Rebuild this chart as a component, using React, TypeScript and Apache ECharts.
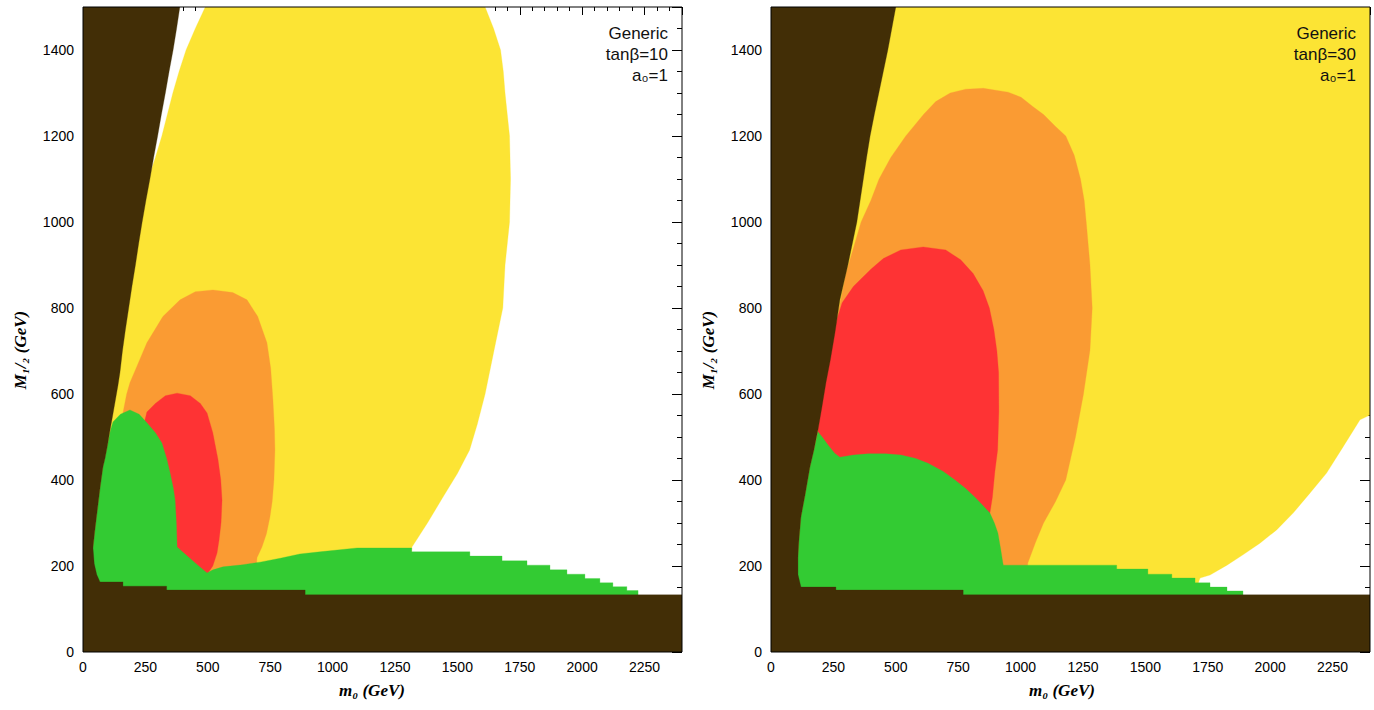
import React, { useEffect, useRef } from 'react';
import * as echarts from 'echarts';

// Axis ranges (GeV)
const X_MAX = 2400;
const X_STEP = 250;
const Y_MAX = 1500;
const Y_STEP = 200;

const panelLabels = [
  ['Generic', 'tanβ=10', 'a₀=1'],
  ['Generic', 'tanβ=30', 'a₀=1'],
];

const COLORS = {
  brown: '#422e06',
  yellow: '#fce434',
  orange: '#fa9b33',
  red: '#fe3334',
  green: '#33cb33',
};

// ---------- Left panel (tanβ = 10): region boundaries [m0, M1/2] ----------
const leftYellow = [
  [490, 1500], [1611, 1500], [1645, 1450], [1673, 1400], [1684, 1350], [1691, 1300],
  [1700, 1250], [1709, 1200], [1713, 1100], [1709, 1000], [1691, 900], [1682, 800],
  [1647, 702], [1611, 600], [1580, 530], [1549, 470], [1500, 415], [1440, 358],
  [1380, 300], [1318, 244], [1300, 150], [20, 150], [60, 400], [120, 600], [170, 800],
  [225, 1000], [262, 1100], [290, 1150], [316, 1200], [338, 1250], [360, 1300],
  [385, 1350], [413, 1400], [450, 1450],
];
const leftOrange = [
  [521, 842], [600, 836], [657, 819], [700, 780], [737, 719], [752, 660], [761, 586],
  [767, 520], [769, 470], [765, 400], [758, 350], [749, 314], [735, 275], [717, 244],
  [697, 219], [690, 150], [140, 150], [140, 450], [160, 556], [175, 600], [188, 626],
  [220, 670], [256, 719], [320, 780], [389, 819], [450, 838],
];
const leftRed = [
  [377, 602], [430, 596], [470, 578], [497, 556], [520, 510], [541, 447], [552, 400],
  [557, 353], [553, 300], [545, 260], [537, 230], [520, 200], [501, 184], [400, 180],
  [240, 300], [240, 520], [256, 558], [290, 578], [330, 596],
];
const leftGreen = [
  [40, 242], [47, 280], [56, 323], [68, 380], [80, 430], [98, 480], [110, 515],
  [120, 535], [150, 553], [188, 563], [225, 553], [256, 533], [290, 510], [316, 486],
  [335, 450], [349, 416], [362, 380], [369, 353], [374, 300], [377, 244], [420, 222],
  [460, 202], [497, 184], [521, 191], [561, 198], [640, 203], [709, 209], [790, 218],
  [869, 228], [950, 233], [1098, 242], [1317, 242], [1317, 233], [1550, 233],
  [1550, 223], [1679, 223], [1679, 212], [1779, 212], [1779, 202], [1871, 202],
  [1871, 191], [1939, 191], [1939, 181], [2011, 181], [2011, 171], [2071, 171],
  [2071, 161], [2123, 161], [2123, 152], [2179, 152], [2179, 143], [2224, 143],
  [2224, 125], [30, 125],
];
const leftBrown = [
  [0, 0], [0, 1500], [388, 1500], [375, 1450], [361, 1400], [345, 1350], [330, 1300],
  [314, 1250], [299, 1200], [283, 1150], [268, 1100], [252, 1050], [237, 1000],
  [223, 950], [210, 900], [196, 850], [183, 800], [170, 750], [158, 700], [148, 650],
  [140, 620], [128, 580], [118, 547], [108, 515], [98, 480], [88, 450], [80, 430],
  [68, 380], [56, 323], [47, 280], [40, 242], [45, 205], [55, 180], [68, 163],
  [160, 163], [160, 153], [335, 153], [335, 144], [890, 144], [890, 133],
  [2400, 133], [2400, 0],
];

// ---------- Right panel (tanβ = 30) ----------
const rightYellow = [
  [0, 140], [0, 1500], [2400, 1500], [2400, 551], [2360, 540], [2292, 477],
  [2226, 416], [2160, 370], [2092, 323], [2026, 284], [1959, 253], [1891, 226],
  [1827, 202], [1759, 179], [1719, 172], [1700, 140],
];
const rightOrange = [
  [851, 1311], [950, 1302], [1002, 1290], [1050, 1268], [1092, 1250], [1140, 1222],
  [1181, 1200], [1215, 1155], [1240, 1100], [1255, 1050], [1263, 1000], [1278, 900],
  [1287, 800], [1278, 702], [1252, 600], [1220, 500], [1181, 400], [1140, 350],
  [1092, 300], [1060, 255], [1029, 207], [1020, 150], [150, 150], [200, 600],
  [250, 730], [300, 880], [361, 1000], [400, 1050], [433, 1100], [480, 1150],
  [540, 1200], [611, 1250], [660, 1280], [718, 1300], [780, 1309],
];
const rightRed = [
  [610, 942], [700, 935], [760, 912], [810, 880], [850, 840], [875, 800], [893, 750],
  [905, 700], [912, 650], [913, 560], [908, 470], [897, 420], [887, 360], [877, 323],
  [850, 300], [600, 300], [300, 400], [188, 470], [188, 516], [195, 580], [215, 660],
  [240, 730], [262, 770], [285, 812], [330, 850], [400, 890], [450, 915], [520, 935],
];
const rightGreen = [
  [108, 221], [112, 260], [120, 314], [138, 370], [156, 430], [172, 470], [188, 512],
  [205, 500], [230, 480], [255, 462], [276, 453], [330, 458], [389, 461], [460, 461],
  [521, 458], [580, 450], [629, 439], [690, 420], [737, 400], [780, 380], [817, 360],
  [850, 340], [877, 323], [895, 300], [909, 277], [920, 240], [929, 207], [931, 202],
  [1385, 202], [1385, 193], [1510, 193], [1510, 181], [1606, 181], [1606, 172],
  [1699, 172], [1699, 161], [1759, 161], [1759, 151], [1827, 151], [1827, 142],
  [1891, 142], [1891, 125], [100, 125],
];
const rightBrown = [
  [0, 0], [0, 1500], [500, 1500], [484, 1450], [468, 1400], [450, 1350], [432, 1300],
  [414, 1250], [397, 1200], [383, 1150], [370, 1100], [357, 1050], [344, 1000],
  [326, 950], [308, 900], [292, 860], [276, 819], [256, 742], [238, 680], [220, 626],
  [204, 570], [188, 516], [172, 470], [156, 430], [138, 370], [120, 314], [112, 260],
  [108, 221], [108, 180], [120, 151], [260, 151], [260, 144], [770, 144], [770, 133],
  [2400, 133], [2400, 0],
];

const panels = [
  [
    [leftYellow, COLORS.yellow], [leftOrange, COLORS.orange], [leftRed, COLORS.red],
    [leftGreen, COLORS.green], [leftBrown, COLORS.brown],
  ],
  [
    [rightYellow, COLORS.yellow], [rightOrange, COLORS.orange], [rightRed, COLORS.red],
    [rightGreen, COLORS.green], [rightBrown, COLORS.brown],
  ],
];

const GRID_LEFTS = [83, 771];
const LABEL_FONT = 'Liberation Sans';

function polySeries(g: number, poly: number[][], color: string) {
  return {
    type: 'custom',
    xAxisIndex: g * 2,
    yAxisIndex: g * 2,
    data: poly,
    clip: true,
    silent: true,
    z: 2,
    encode: { x: 0, y: 1 },
    renderItem: (params: any, api: any) => {
      if (params.dataIndex !== 0) return null;
      const pts = poly.map((p) => api.coord(p));
      return {
        type: 'polygon',
        shape: { points: pts },
        style: { fill: color, stroke: color, lineWidth: 0.3 },
      };
    },
  };
}

const plainLabel = (v: number) => String(v);

function buildOption() {
  const grid = GRID_LEFTS.map((l) => ({
    left: l, top: 7, width: 599, height: 645,
    show: true, borderColor: '#000', borderWidth: 1, backgroundColor: 'transparent', z: 10,
  }));
  const xAxis: any[] = [];
  const yAxis: any[] = [];
  GRID_LEFTS.forEach((_, g) => {
    xAxis.push({
      type: 'value', gridIndex: g, position: 'bottom', min: 0, max: X_MAX, interval: X_STEP,
      z: 10,
      axisLine: { show: false, onZero: false },
      axisTick: { show: false },
      minorTick: { show: false },
      splitLine: { show: false },
      axisLabel: { color: '#000', fontSize: 14, fontFamily: LABEL_FONT, margin: 8, showMaxLabel: false, formatter: plainLabel },
    });
    xAxis.push({
      type: 'value', gridIndex: g, position: 'top', min: 0, max: X_MAX, interval: X_STEP,
      z: 0,
      axisLine: { show: false, onZero: false },
      axisTick: { show: true, inside: true, length: 8, lineStyle: { color: '#000' } },
      minorTick: { show: true, splitNumber: 5, length: 4, lineStyle: { color: '#000' } },
      splitLine: { show: false },
      axisLabel: { show: false },
    });
    yAxis.push({
      type: 'value', gridIndex: g, position: 'left', min: 0, max: Y_MAX, interval: Y_STEP,
      z: 10,
      axisLine: { show: false, onZero: false },
      axisTick: { show: false },
      minorTick: { show: false },
      splitLine: { show: false },
      axisLabel: { color: '#000', fontSize: 14, fontFamily: LABEL_FONT, margin: 9, showMaxLabel: false, formatter: plainLabel },
    });
    yAxis.push({
      type: 'value', gridIndex: g, position: 'right', min: 0, max: Y_MAX, interval: Y_STEP,
      z: 0,
      axisLine: { show: false, onZero: false },
      axisTick: { show: true, inside: true, length: 10, lineStyle: { color: '#000' } },
      minorTick: { show: true, splitNumber: 4, length: 5, lineStyle: { color: '#000' } },
      splitLine: { show: false },
      axisLabel: { show: false },
    });
  });

  const series: any[] = [];
  panels.forEach((regions, g) => {
    regions.forEach(([poly, color]) => series.push(polySeries(g, poly as number[][], color as string)));
  });

  const titleFont = {
    fontFamily: 'Liberation Serif', fontStyle: 'italic', fontWeight: 'bold', fontSize: 17, fill: '#000',
  };
  const graphic: any[] = [];
  const xTitleCenters = [372, 1062];
  const yTitleX = [20, 708];
  const annotRight = [668, 1356];
  [0, 1].forEach((g) => {
    graphic.push({
      type: 'text', x: xTitleCenters[g], y: 690, z: 20,
      style: { ...titleFont, text: 'm₀ (GeV)', textAlign: 'center', textVerticalAlign: 'middle', align: 'center', verticalAlign: 'middle' },
    });
    graphic.push({
      type: 'text', x: yTitleX[g], y: 350, rotation: Math.PI / 2, z: 20,
      style: { ...titleFont, text: 'M₁/₂ (GeV)', textAlign: 'center', textVerticalAlign: 'middle', align: 'center', verticalAlign: 'middle' },
    });
    graphic.push({
      type: 'text', x: annotRight[g], y: 23, z: 20,
      style: {
        text: panelLabels[g].join('\n'), fontFamily: LABEL_FONT, fontSize: 17, lineHeight: 21, fill: '#111',
        textAlign: 'right', align: 'right', textVerticalAlign: 'top', verticalAlign: 'top',
      },
    });
  });

  return { animation: false, backgroundColor: '#fff', grid, xAxis, yAxis, series, graphic };
}

export default function App() {
  const ref = useRef<HTMLDivElement>(null);
  useEffect(() => {
    if (!ref.current) return;
    const chart = echarts.init(ref.current, null, { renderer: 'svg' });
    chart.setOption(buildOption() as any);
    return () => chart.dispose();
  }, []);
  return (
    <div
      ref={ref}
      style={{ position: 'absolute', left: 0, top: 0, width: 1374, height: 710, background: '#fff' }}
    />
  );
}
